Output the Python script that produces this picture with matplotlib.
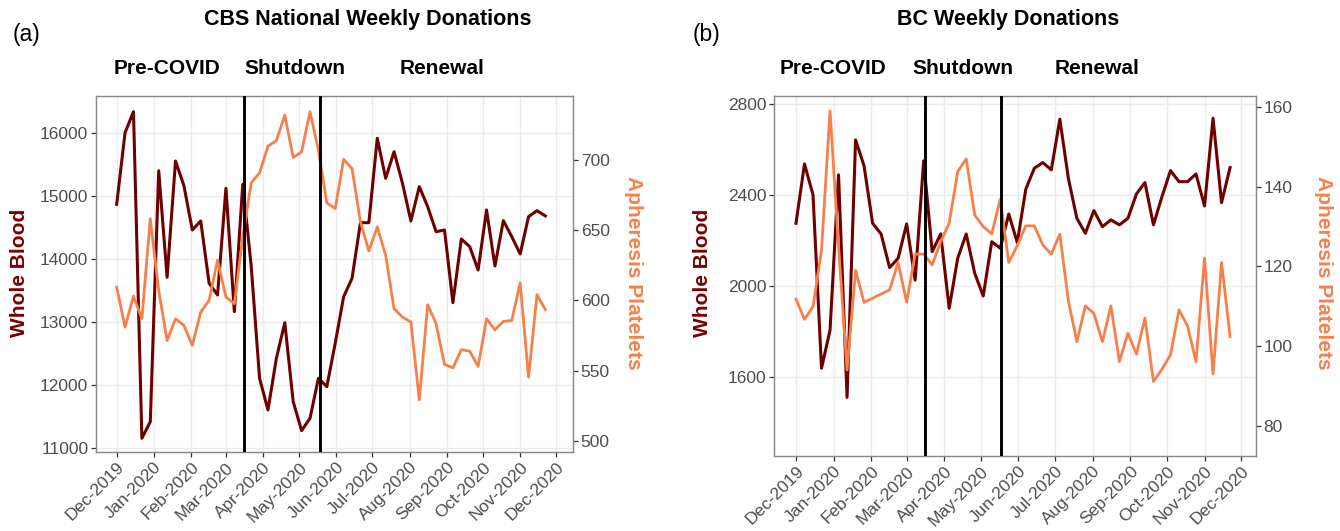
import numpy as np
import pandas as pd
import matplotlib
matplotlib.use("Agg")
from matplotlib import pyplot as plt
import matplotlib.dates as mdates

plt.rcParams['font.family'] = ['Liberation Sans', 'DejaVu Sans']

# weekly totals, first week starting 2019-12-01
settimane = pd.date_range("2019-12-01", periods=52, freq="7D")

cbs_sangue = [14873, 16010, 16343, 11159, 11422, 15406, 13714, 15560, 15168, 14465,
              14608, 13619, 13433, 15127, 13168, 15190, 13900, 12111, 11608, 12429,
              12994, 11740, 11280, 11476, 12111, 11978, 12667, 13406, 13698, 14581,
              14581, 15921, 15286, 15708, 15206, 14608, 15153, 14835, 14438, 14465,
              13311, 14322, 14200, 13830, 14783, 13894, 14613, 14360, 14084, 14677,
              14772, 14688]
cbs_piastrine = [609.5, 580.9, 603.1, 586.9, 658.3, 607.1, 571.4, 586.9, 582.1, 567.9,
                 591.7, 600.0, 628.6, 602.4, 597.6, 645.0, 683.8, 690.9, 710.0, 713.8,
                 732.1, 701.9, 705.9, 734.5, 707.1, 669.5, 665.5, 700.5, 694.0, 655.9,
                 635.2, 652.4, 632.1, 594.0, 588.1, 584.5, 529.1, 596.9, 583.3, 554.3,
                 551.9, 564.8, 563.8, 552.9, 586.9, 579.0, 585.0, 585.7, 612.4, 545.2,
                 604.1, 593.4]

bc_sangue = [2275, 2536, 2400, 1637, 1805, 2488, 1509, 2642, 2527, 2275,
             2228, 2080, 2121, 2272, 2025, 2550, 2150, 2228, 1901, 2121,
             2228, 2055, 1955, 2194, 2165, 2316, 2190, 2425, 2517, 2542,
             2510, 2733, 2473, 2297, 2231, 2331, 2260, 2290, 2268, 2297,
             2404, 2454, 2268, 2392, 2507, 2458, 2458, 2492, 2351, 2737,
             2366, 2520]
bc_piastrine = [111.8, 106.7, 109.9, 124.1, 159.1, 125.0, 94.0, 119.0, 111.0, 112.0,
                113.1, 114.1, 121.0, 111.0, 123.1, 123.1, 120.4, 126.2, 130.9, 143.8,
                147.0, 132.9, 130.0, 128.2, 136.9, 121.0, 125.2, 130.2, 130.2, 125.4,
                123.1, 128.1, 111.4, 101.1, 110.1, 108.2, 101.1, 110.1, 96.1, 103.2,
                98.0, 107.0, 91.1, 94.2, 97.8, 109.1, 105.1, 96.1, 122.1, 93.0,
                121.0, 102.4]

date_fasi = [pd.Timestamp("2020-03-16"), pd.Timestamp("2020-05-18")]
mesi = pd.date_range("2019-12-01", "2020-12-01", freq="MS")

colore_sangue = "#6E0000"
colore_piastrine = "#F7804A"
W, H = 1340, 531


def fx(px):
    return px / W


def fy(py):
    return 1 - py / H


def pannello(fig, rett, sangue, piastrine, xlim, ylim1, ylim2, yt1, yt2):
    ax = fig.add_axes(rett)
    ax2 = ax.twinx()
    ax.plot(settimane, sangue, color=colore_sangue, lw=2.2, zorder=3)
    ax2.plot(settimane, piastrine, color=colore_piastrine, lw=2.0, zorder=3)
    for d in date_fasi:
        ax2.axvline(d, color="black", lw=2.1, zorder=5)
    ax.set_xlim(xlim)
    ax.set_ylim(ylim1)
    ax2.set_ylim(ylim2)
    ax.set_yticks(yt1)
    ax2.set_yticks(yt2)
    ax.set_xticks(mesi)
    ax.xaxis.set_major_formatter(mdates.DateFormatter("%b-%Y"))
    ax.grid(True, color="#EBEBEB", lw=1.0, zorder=0)
    ax.set_axisbelow(True)
    for a in (ax, ax2):
        for s in a.spines.values():
            s.set_color("#8a8a8a")
            s.set_linewidth(0.9)
        a.tick_params(length=3.5, width=0.9, color="#333333", labelcolor="#4D4D4D",
                      labelsize=12.5, pad=2)
    plt.setp(ax.get_xticklabels(), rotation=45, ha="right", rotation_mode="anchor")
    return ax, ax2


fig = plt.figure(figsize=(W / 100, H / 100), dpi=100)

pannello(fig, [fx(96), fy(452), fx(477), 356 / H], cbs_sangue, cbs_piastrine,
         (pd.Timestamp("2019-11-13 19:00"), pd.Timestamp("2020-12-15 00:00")),
         (10941, 16592), (491.9, 745.7),
         [11000, 12000, 13000, 14000, 15000, 16000], [500, 550, 600, 650, 700])

pannello(fig, [fx(774), fy(456), fx(482), 360 / H], bc_sangue, bc_piastrine,
         (pd.Timestamp("2019-11-12 22:00"), pd.Timestamp("2020-12-13 08:00")),
         (1251, 2835), (72.4, 162.8),
         [1600, 2000, 2400, 2800], [80, 100, 120, 140, 160])

titolo = dict(fontsize=15.5, fontweight="bold", ha="center", va="center")
fig.text(fx(368), fy(20), "CBS National Weekly Donations", **titolo)
fig.text(fx(1008), fy(20), "BC Weekly Donations", **titolo)
fig.text(fx(26), fy(34), "(a)", fontsize=16.5, ha="center", va="center")
fig.text(fx(706), fy(34), "(b)", fontsize=16.5, ha="center", va="center")

fase = dict(fontsize=15, fontweight="bold", ha="center", va="center")
for x, testo in [(167, "Pre-COVID"), (295, "Shutdown"), (442, "Renewal"),
                 (833, "Pre-COVID"), (963, "Shutdown"), (1097, "Renewal")]:
    fig.text(fx(x), fy(68), testo, **fase)

asse = dict(fontsize=15, fontweight="bold", ha="center", va="center")
fig.text(fx(20), fy(273), "Whole Blood", color="#7A0000", rotation=90, **asse)
fig.text(fx(633), fy(273), "Apheresis Platelets", color="#F7804A", rotation=270, **asse)
fig.text(fx(703), fy(273), "Whole Blood", color="#7A0000", rotation=90, **asse)
fig.text(fx(1323), fy(273), "Apheresis Platelets", color="#F7804A", rotation=270, **asse)

fig.savefig("out.png", dpi=100)
